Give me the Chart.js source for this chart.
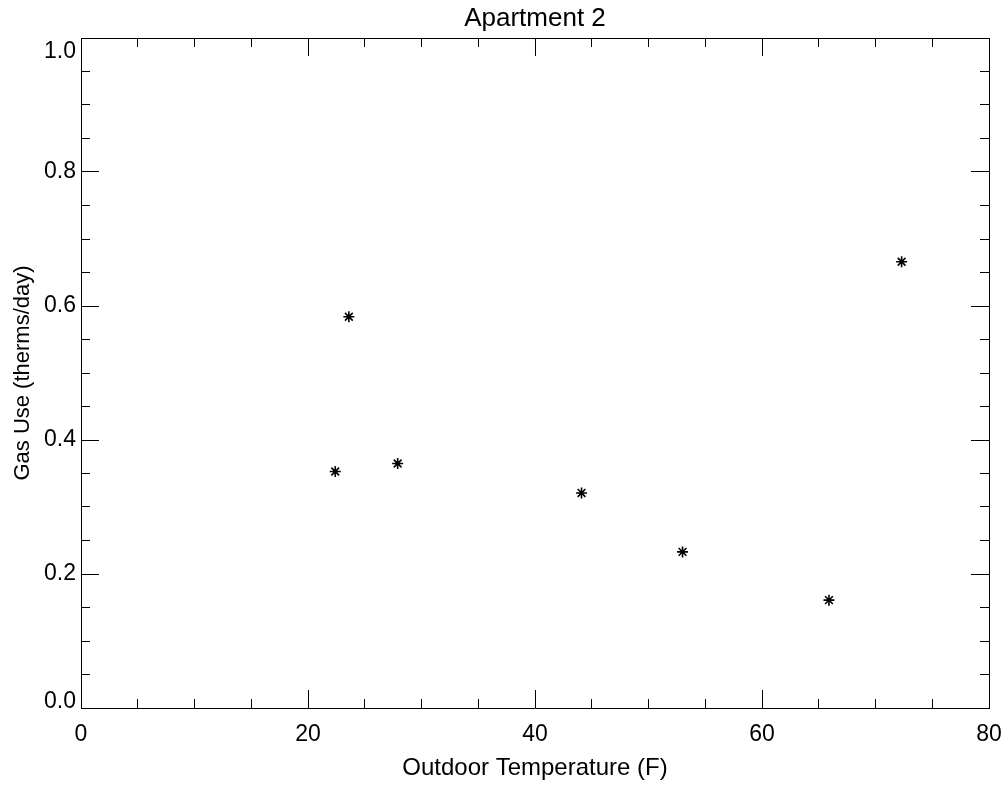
<!DOCTYPE html>
<html>
<head>
<meta charset="utf-8">
<title>Apartment 2</title>
<script src="https://cdn.jsdelivr.net/npm/chart.js@4/dist/chart.umd.min.js"></script>
<style>
  html, body { margin: 0; padding: 0; background: #fff; }
  #wrap { width: 1006px; height: 786px; }
</style>
</head>
<body>
<div id="wrap"><canvas id="gasChart" width="1006" height="786"></canvas></div>
<script>
// Data
const tempF = [22.4, 23.6, 27.9, 44.1, 53.0, 65.9, 72.3];
const gasUse = [0.353, 0.584, 0.365, 0.321, 0.233, 0.161, 0.666];

const chartTitle = 'Apartment 2';
const xTitle = 'Outdoor Temperature (F)';
const yTitle = 'Gas Use (therms/day)';

const xRange = [0, 80];
const yRange = [0, 1];
const xMajorStep = 20, xMinorStep = 5;
const yMajorStep = 0.2, yMinorStep = 0.05;

const FONT = "'Liberation Sans', Arial, sans-serif";

document.addEventListener('DOMContentLoaded', function () {
    initChart();
});

// axis that only draws inward tick marks (IDL style box)
function tickAxis(position, range, step, len) {
    const horizontal = position === 'top' || position === 'bottom';
    return {
        type: 'linear',
        position: position,
        min: range[0],
        max: range[1],
        weight: -1,
        ticks: { display: false, stepSize: step, maxTicksLimit: 100 },
        grid: {
            display: true,
            drawOnChartArea: false,
            drawTicks: true,
            tickLength: -len,
            color: '#000',
            lineWidth: 1
        },
        border: { display: position === 'top' || position === 'right', color: '#000', width: 1 },
        afterFit: function (scale) {
            if (horizontal) scale.height = 0; else scale.width = 0;
        }
    };
}

function initChart() {
    const canvas = document.getElementById('gasChart');
    const ctx = canvas.getContext('2d');

    const points = tempF.map((t, i) => ({ x: t, y: gasUse[i] }));

    new Chart(ctx, {
        type: 'scatter',
        data: {
            datasets: [{
                data: points,
                pointStyle: 'star',
                pointRadius: 5.5,
                pointHoverRadius: 5.5,
                borderColor: '#000',
                backgroundColor: '#000',
                borderWidth: 1.6,
                xAxisID: 'x',
                yAxisID: 'y'
            }]
        },
        options: {
            responsive: false,
            animation: false,
            layout: { padding: { left: 0, right: 17, top: 0, bottom: 0 } },
            plugins: {
                legend: { display: false },
                tooltip: { enabled: false },
                title: {
                    display: true,
                    fullSize: false, // centre over the plot box, not the canvas
                    text: chartTitle,
                    color: '#000',
                    font: { family: FONT, size: 26, weight: 'normal', lineHeight: 1.2 },
                    padding: { top: 3, bottom: 3.8 }
                }
            },
            scales: {
                x: {
                    type: 'linear',
                    position: 'bottom',
                    min: xRange[0],
                    max: xRange[1],
                    ticks: {
                        stepSize: xMajorStep,
                        color: '#000',
                        padding: 13,
                        maxRotation: 0,
                        font: { family: FONT, size: 23 }
                    },
                    grid: { display: false, drawTicks: false },
                    border: { display: true, color: '#000', width: 1 },
                    title: {
                        display: true,
                        text: xTitle,
                        color: '#000',
                        font: { family: FONT, size: 24 },
                        padding: { top: 0, bottom: 3.6 }
                    },
                    afterFit: function (scale) {
                        scale.height = 78;
                        scale.paddingRight = 0; // "80" may hang past the box
                    }
                },
                y: {
                    type: 'linear',
                    position: 'left',
                    min: yRange[0],
                    max: yRange[1],
                    ticks: {
                        stepSize: yMajorStep,
                        color: '#000',
                        padding: 5,
                        // end labels are pulled inside the box like IDL does
                        callback: function (v) {
                            const s = v.toFixed(1);
                            if (v >= yRange[1]) return ['', s];
                            if (v <= yRange[0]) return [s, ''];
                            return s;
                        },
                        font: function (c) {
                            const v = c.tick ? c.tick.value : 0.5;
                            return { family: FONT, size: 23, lineHeight: v <= yRange[0] ? '12px' : '28px' };
                        }
                    },
                    grid: { display: false, drawTicks: false },
                    border: { display: true, color: '#000', width: 1 },
                    title: {
                        display: true,
                        text: yTitle,
                        color: '#000',
                        font: { family: FONT, size: 22 },
                        padding: { top: 10, bottom: 0 }
                    },
                    afterFit: function (scale) { scale.width = 81; }
                },
                xMinor: tickAxis('bottom', xRange, xMinorStep, 9),
                xMajor: tickAxis('bottom', xRange, xMajorStep, 18),
                xTopMinor: tickAxis('top', xRange, xMinorStep, 9),
                xTopMajor: tickAxis('top', xRange, xMajorStep, 18),
                yMinor: tickAxis('left', yRange, yMinorStep, 9),
                yMajor: tickAxis('left', yRange, yMajorStep, 18),
                yRightMinor: tickAxis('right', yRange, yMinorStep, 9),
                yRightMajor: tickAxis('right', yRange, yMajorStep, 18)
            }
        }
    });
}
</script>
</body>
</html>
